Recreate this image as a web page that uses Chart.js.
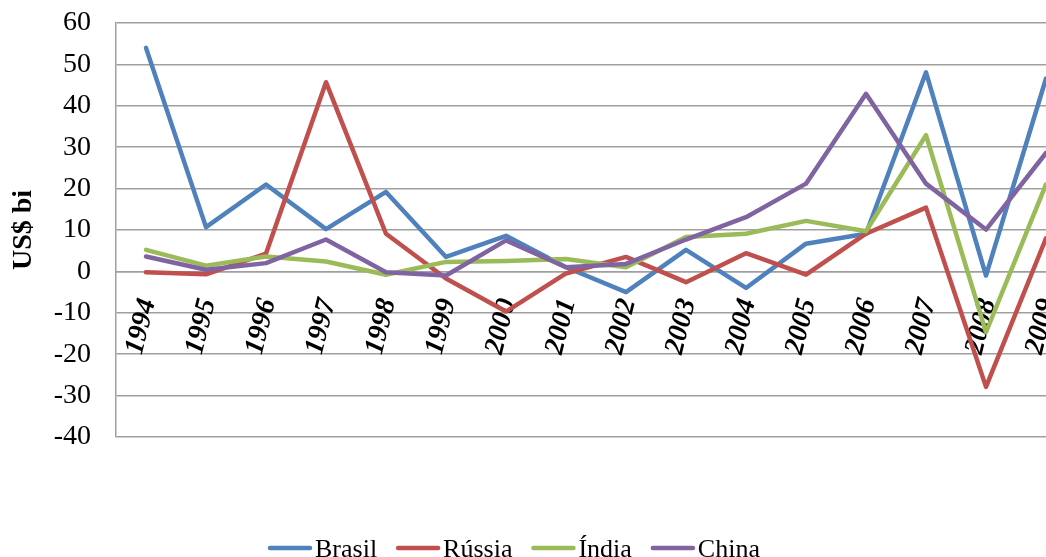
<!DOCTYPE html>
<html>
<head>
<meta charset="utf-8">
<script src="https://cdn.jsdelivr.net/npm/chart.js@4"></script>
<style>
  html, body { margin: 0; padding: 0; background: #fff; overflow: hidden; }
  #wrap { width: 1100px; height: 557px; }
</style>
</head>
<body>
<div id="wrap"><canvas id="c" width="1100" height="557"></canvas></div>
<script>
// Saldo em US$ bilhões, 1994–2009
const years  = ['1994','1995','1996','1997','1998','1999','2000','2001','2002','2003','2004','2005','2006','2007','2008','2009'];
const brasil = [54.0, 10.7, 21.0, 10.2, 19.2, 3.5, 8.6, 1.0, -5.0, 5.2, -4.0, 6.7, 9.1, 48.1, -1.0, 46.6];
const russia = [-0.2, -0.7, 4.3, 45.7, 9.1, -1.7, -9.7, -0.5, 3.5, -2.6, 4.4, -0.8, 9.1, 15.4, -27.9, 8.0];
const india  = [5.2, 1.4, 3.6, 2.4, -0.8, 2.3, 2.5, 3.0, 1.0, 8.3, 9.1, 12.2, 9.7, 32.9, -14.7, 21.0];
const china  = [3.6, 0.4, 2.0, 7.7, -0.2, -1.0, 7.5, 1.0, 1.8, 7.7, 13.1, 21.2, 42.9, 21.2, 10.1, 28.6];
const yTicks = [-40, -30, -20, -10, 0, 10, 20, 30, 40, 50, 60];

const seriesNames  = ['Brasil', 'Rússia', 'Índia', 'China'];
const seriesColors = ['#4F81BD', '#C0504D', '#9BBB59', '#8064A2'];
const seriesData   = [brasil, russia, india, china];

const SERIF = '"Liberation Serif", "Times New Roman", serif';
const GRID = '#9f9f9f';

// Legend drawn along the bottom edge
const bottomLegend = {
  id: 'bottomLegend',
  afterDraw(chart) {
    const ctx = chart.ctx;
    ctx.save();
    ctx.font = '26px ' + SERIF;
    const lineLen = 44, gapText = 3, gapItem = 19;
    let x = 268;
    const yLine = 548, yText = 557;
    seriesNames.forEach((name, i) => {
      ctx.strokeStyle = seriesColors[i];
      ctx.lineWidth = 4.5;
      ctx.lineCap = 'round';
      ctx.beginPath();
      ctx.moveTo(x + 2, yLine);
      ctx.lineTo(x + lineLen - 2, yLine);
      ctx.stroke();
      ctx.fillStyle = '#000';
      ctx.textBaseline = 'alphabetic';
      ctx.textAlign = 'left';
      ctx.fillText(name, x + lineLen + gapText, yText);
      x += lineLen + gapText + ctx.measureText(name).width + gapItem;
    });
    ctx.restore();
  }
};

new Chart(document.getElementById('c'), {
  type: 'line',
  data: {
    labels: years,
    datasets: seriesNames.map((name, i) => ({
      label: name,
      data: seriesData[i],
      borderColor: seriesColors[i],
      backgroundColor: seriesColors[i],
      borderWidth: 4.5,
      pointRadius: 0,
      tension: 0,
      borderJoinStyle: 'round',
      borderCapStyle: 'round',
      order: seriesNames.length - i
    }))
  },
  options: {
    responsive: false,
    animation: false,
    devicePixelRatio: 1,
    layout: { padding: { top: 23, right: 24, bottom: 120, left: 0 } },
    plugins: {
      legend: { display: false },
      tooltip: { enabled: false }
    },
    scales: {
      x: {
        type: 'category',
        offset: true,
        position: { y: 0 },
        afterFit(scale) { scale.paddingLeft = 0; scale.paddingRight = 0; },
        grid: { display: false, drawTicks: false },
        border: { display: true, color: GRID, width: 1.5 },
        ticks: {
          autoSkip: false,
          minRotation: 76,
          maxRotation: 76,
          padding: 24,
          labelOffset: 2,
          color: '#000',
          font: { family: SERIF, size: 28, weight: 'bold', style: 'italic' }
        }
      },
      y: {
        min: -40,
        max: 60,
        afterBuildTicks(scale) { scale.ticks = yTicks.map(v => ({ value: v })); },
        afterFit(scale) { scale.width = 116; scale.paddingTop = 0; scale.paddingBottom = 0; },
        grid: { color: GRID, lineWidth: 1.5, drawTicks: false },
        border: { display: true, color: GRID, width: 1.5 },
        ticks: {
          padding: 25,
          color: '#000',
          font: { family: SERIF, size: 28 }
        },
        title: {
          display: true,
          text: 'US$ bi',
          color: '#000',
          padding: { top: 7, bottom: 0 },
          font: { family: SERIF, size: 28, weight: 'bold' }
        }
      }
    }
  },
  plugins: [bottomLegend]
});
</script>
</body>
</html>
